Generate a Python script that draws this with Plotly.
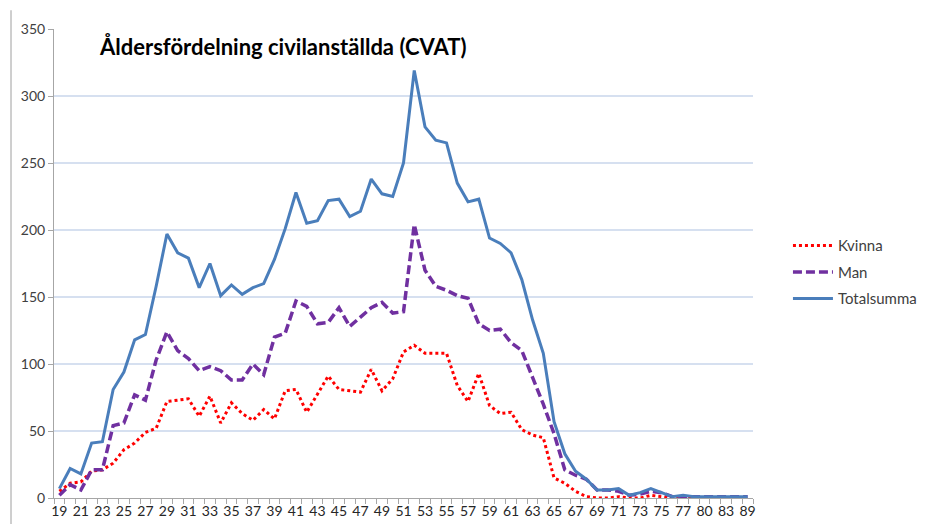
import plotly.graph_objects as go

ages = [str(a) for a in range(19, 78)] + ["78", "80", "81", "83", "86", "89"]

kvinna = [5, 11, 12, 20, 21, 26, 36, 41, 49, 52, 72, 73, 74, 61, 76, 56, 71, 63, 58, 66,
          59, 80, 81, 64, 78, 91, 81, 80, 79, 96, 80, 89, 109, 114, 108, 108, 108, 84, 72, 93,
          69, 63, 64, 51, 47, 45, 15, 11, 5, 1, 0, 0, 1, 0, 0, 2, 1, 0, 0,
          0, 0, 0, 0, 0, 0]

man = [2, 10, 6, 21, 21, 54, 56, 77, 73, 103, 124, 110, 104, 95, 98, 95, 88, 88, 100, 92,
       120, 123, 147, 143, 130, 131, 142, 128, 135, 142, 146, 138, 139, 204, 170, 158, 155, 151, 149, 130,
       125, 126, 116, 110, 90, 70, 48, 21, 17, 14, 6, 6, 5, 2, 3, 5, 4, 1, 1,
       1, 1, 1, 1, 1, 1]

total = [7, 22, 18, 41, 42, 81, 94, 118, 122, 158, 197, 183, 179, 157, 175, 151, 159, 152, 157, 160,
         178, 201, 228, 205, 207, 222, 223, 210, 214, 238, 227, 225, 250, 319, 277, 267, 265, 235, 221, 223,
         194, 190, 183, 163, 133, 108, 57, 33, 20, 14, 6, 6, 7, 2, 4, 7, 4, 1, 2,
         1, 1, 1, 1, 1, 1]

tick_text = [a if i % 2 == 0 else "" for i, a in enumerate(ages)]

FONT = "Lato"

fig = go.Figure()
fig.add_trace(go.Scatter(x=ages, y=kvinna, name="Kvinna", mode="lines", legendgroup="k",
                         line=dict(color="#FF0000", width=3, dash="3px,3px")))
fig.add_trace(go.Scatter(x=ages, y=man, name="Man", mode="lines", legendgroup="m",
                         line=dict(color="#7030A0", width=3.5, dash="9px,4px")))
fig.add_trace(go.Scatter(x=ages, y=total, name="Totalsumma", mode="lines", legendgroup="t",
                         line=dict(color="#4A7EBB", width=3)))

fig.update_layout(
    width=928, height=524,
    margin=dict(l=46, r=183, t=18, b=34),
    paper_bgcolor="white", plot_bgcolor="white",
    font=dict(family=FONT, size=14, color="#404040"),
    showlegend=True,
    legend=dict(x=1.05, y=0.573, xanchor="left", yanchor="top",
                font=dict(family=FONT, size=15, color="#404040"),
                tracegroupgap=4, itemwidth=40),
    xaxis=dict(type="category", tickmode="array", tickvals=ages, ticktext=tick_text,
               range=[-0.5, len(ages) - 0.5], showgrid=False, showline=True,
               linecolor="#A6A6A6", linewidth=1, ticks="outside", ticklen=5,
               tickcolor="#A6A6A6", tickson="boundaries", tickangle=0,
               tickfont=dict(family=FONT, size=14, color="#262626")),
    yaxis=dict(range=[0, 350], dtick=50, showgrid=True, gridcolor="#D6E0F0", gridwidth=1.5,
               showline=True, linecolor="#A6A6A6", linewidth=1, zeroline=False,
               ticks="outside", ticklen=5, tickcolor="#A6A6A6",
               tickfont=dict(family=FONT, size=14, color="#404040")),
)

fig.add_annotation(text="<b>Åldersfördelning civilanställda (CVAT)</b>",
                   xref="paper", yref="paper", x=0.0615, y=0.962,
                   xanchor="left", yanchor="middle", showarrow=False,
                   font=dict(family=FONT, size=22, color="#000000"))

fig.add_shape(type="line", xref="paper", yref="paper", x0=-0.0615, x1=-0.0615,
              y0=-0.08, y1=1.04, line=dict(color="#BFBFBF", width=1.5))

fig.write_html("out.html")
